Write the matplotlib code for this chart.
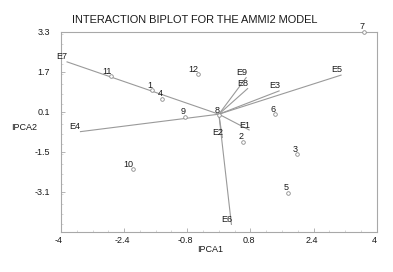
import matplotlib
matplotlib.use("Agg")
import matplotlib.pyplot as plt
import matplotlib.transforms as mtransforms
from matplotlib.ticker import FixedLocator, MultipleLocator

plt.rcParams['font.family'] = ['Liberation Sans', 'DejaVu Sans']

# Genotype scores (IPCA1, IPCA2)
gen_labels = ['1', '2', '3', '4', '5', '6', '7', '8', '9', '10', '11', '12']
gen_ipca1 = [-1.70, 0.62, 1.99, -1.44, 1.75, 1.42, 3.67, 0.01, -0.86, -2.17, -2.73, -0.52]
gen_ipca2 = [0.97, -1.10, -1.59, 0.62, -3.14, 0.00, 3.30, -0.03, -0.10, -2.20, 1.53, 1.61]

# Environment vectors (IPCA1, IPCA2)
env_labels = ['E1', 'E2', 'E3', 'E4', 'E5', 'E6', 'E7', 'E8', 'E9']
env_ipca1 = [0.78, 0.09, 1.54, -3.52, 3.11, 0.32, -3.86, 0.74, 0.70]
env_ipca2 = [-0.64, -0.95, 0.94, -0.70, 1.57, -4.43, 2.10, 1.04, 1.48]

x_ticks = [-4, -2.4, -0.8, 0.8, 2.4, 4]
y_ticks = [-3.1, -1.5, 0.1, 1.7, 3.3]

W, H = 393, 272
fig = plt.figure(figsize=(W / 100, H / 100), dpi=100)
ax = fig.add_axes([61 / W, 1 - 231.7 / H, (376.7 - 61) / W, (231.7 - 31.7) / H])

line_c = '#9a9a9a'
text_c = '#1a1a1a'
small = 6.5

for lab, x, y in zip(env_labels, env_ipca1, env_ipca2):
    ax.plot([0, x], [0, y], color=line_c, lw=0.8, solid_capstyle='butt', zorder=2)
    ax.annotate(lab, (x, y), xytext=(0.5, 0.5), textcoords='offset points',
                ha='right', va='bottom', fontsize=small, color=text_c)

ax.plot(gen_ipca1, gen_ipca2, linestyle='none', marker='o', ms=2.6,
        mfc='white', mec='#8a8a8a', mew=0.6, zorder=3, clip_on=False)
for lab, x, y in zip(gen_labels, gen_ipca1, gen_ipca2):
    ax.annotate(lab, (x, y), xytext=(0.3, 0.3), textcoords='offset points',
                ha='right', va='bottom', fontsize=small, color=text_c)

ax.set_xlim(-4, 4)
ax.set_ylim(-4.7, 3.3)
ax.xaxis.set_major_locator(FixedLocator(x_ticks))
ax.yaxis.set_major_locator(FixedLocator(y_ticks))
ax.set_xticklabels([f'{v:g}' for v in x_ticks])
ax.set_yticklabels([f'{v:g}' for v in y_ticks])
ax.xaxis.set_minor_locator(MultipleLocator(0.4))
ax.yaxis.set_minor_locator(MultipleLocator(0.4))

for s in ax.spines.values():
    s.set_color('#a8a8a8')
    s.set_linewidth(0.8)

ax.tick_params(axis='both', which='major', direction='in', length=3, width=0.6,
               color='#a8a8a8', labelsize=small, labelcolor=text_c)
ax.tick_params(axis='both', which='minor', direction='in', length=1.2, width=0.5,
               color='#c8c8c8')
ax.tick_params(axis='x', which='major', pad=3)
ax.tick_params(axis='y', which='major', pad=8)

offset = mtransforms.ScaledTranslation(-2 / 100, 0, fig.dpi_scale_trans)
for lbl in ax.get_xticklabels():
    lbl.set_transform(lbl.get_transform() + offset)

fig.text(195 / W, 1 - 20 / H, 'INTERACTION BIPLOT FOR THE AMMI2 MODEL',
         ha='center', va='center', fontsize=7.9, color=text_c)
fig.text(210 / W, 1 - 250 / H, 'IPCA1', ha='center', va='center',
         fontsize=small, color=text_c)
fig.text(11 / W, 1 - 127.5 / H, 'IPCA2', ha='left', va='center',
         fontsize=small, color=text_c)

fig.savefig('out.png', dpi=100, facecolor='white')
